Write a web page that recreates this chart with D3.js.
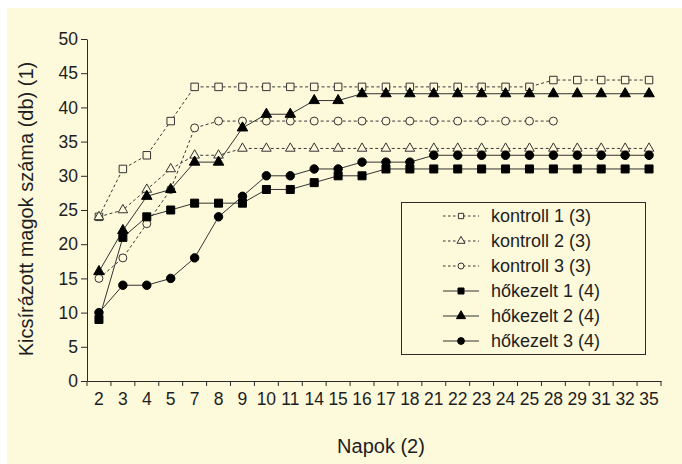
<!DOCTYPE html>
<html>
<head>
<meta charset="utf-8">
<script src="https://cdn.jsdelivr.net/npm/d3@7/dist/d3.min.js"></script>
<style>
  html, body { margin: 0; padding: 0; background: #ffffff; }
  svg { display: block; font-family: "Liberation Sans", Arial, Helvetica, sans-serif; }
</style>
</head>
<body>
<svg id="chart" width="682" height="464"></svg>
<script>
// Days of observation (ordinal categories on the x axis)
const days = ["2","3","4","5","7","8","9","10","11","14","15","16","17","18","21","22","23","24","25","28","29","31","32","35"];

// Cumulative number of germinated seeds per replicate
const kontroll1 = [24,31,33,38,43,43,43,43,43,43,43,43,43,43,43,43,43,43,43,44,44,44,44,44];
const kontroll2 = [24,25,28,31,33,33,34,34,34,34,34,34,34,34,34,34,34,34,34,34,34,34,34,34];
const kontroll3 = [15,18,23,28,37,38,38,38,38,38,38,38,38,38,38,38,38,38,38,38];
const hokezelt1 = [9,21,24,25,26,26,26,28,28,29,30,30,31,31,31,31,31,31,31,31,31,31,31,31];
const hokezelt2 = [16,22,27,28,32,32,37,39,39,41,41,42,42,42,42,42,42,42,42,42,42,42,42,42];
const hokezelt3 = [10,14,14,15,18,24,27,30,30,31,31,32,32,32,33,33,33,33,33,33,33,33,33,33];

const yTicks = [0,5,10,15,20,25,30,35,40,45,50];
const seriesNames = ["kontroll 1 (3)","kontroll 2 (3)","kontroll 3 (3)","hőkezelt 1 (4)","hőkezelt 2 (4)","hőkezelt 3 (4)"];

const BG = "#fdf9db";
const INK = "#2b2b2b";

const series = [
  { name: seriesNames[0], values: kontroll1, symbol: d3.symbolSquare,   size: 56, filled: false, dashed: true },
  { name: seriesNames[1], values: kontroll2, symbol: d3.symbolTriangle, size: 40, filled: false, dashed: true },
  { name: seriesNames[2], values: kontroll3, symbol: d3.symbolCircle,   size: 50, filled: false, dashed: true },
  { name: seriesNames[3], values: hokezelt1, symbol: d3.symbolSquare,   size: 64, filled: true,  dashed: false },
  { name: seriesNames[4], values: hokezelt2, symbol: d3.symbolTriangle, size: 48, filled: true,  dashed: false },
  { name: seriesNames[5], values: hokezelt3, symbol: d3.symbolCircle,   size: 56, filled: true,  dashed: false }
];

const svg = d3.select("#chart");

// panel background
svg.append("rect").attr("x", 7).attr("y", 8).attr("width", 675).attr("height", 456).attr("fill", BG);

const x = d3.scaleBand().domain(days).range([87, 661]).paddingInner(0).paddingOuter(0);
const y = d3.scaleLinear().domain([0, 50]).range([381, 39]);
const cx = d => x(d) + x.bandwidth() / 2;

// y axis
const yAxis = svg.append("g")
  .attr("transform", "translate(87,0)")
  .call(d3.axisLeft(y).tickValues(yTicks).tickSize(6).tickPadding(3).tickSizeOuter(0));
yAxis.select(".domain").attr("stroke", INK);
yAxis.selectAll(".tick line").attr("stroke", INK);
yAxis.selectAll(".tick text").attr("fill", "#1e1e1e").attr("font-size", 17.5).attr("font-family", "Liberation Sans, Arial, sans-serif");

// x axis: labels centred in each band, ticks at band boundaries
const xAxis = svg.append("g")
  .attr("transform", "translate(0,381)")
  .call(d3.axisBottom(x).tickSize(0).tickPadding(12).tickSizeOuter(0));
xAxis.select(".domain").attr("stroke", INK);
xAxis.selectAll(".tick text").attr("fill", "#1e1e1e").attr("font-size", 17.5).attr("font-family", "Liberation Sans, Arial, sans-serif");
const bounds = days.map(d => x(d)).concat([x.range()[1]]);
xAxis.selectAll("line.bound").data(bounds).enter().append("line")
  .attr("class", "bound")
  .attr("x1", d => d).attr("x2", d => d)
  .attr("y1", 0).attr("y2", 5)
  .attr("stroke", INK);

// series lines
const line = d3.line().x((v, i) => cx(days[i])).y(v => y(v));
series.forEach(s => {
  svg.append("path")
    .attr("d", line(s.values))
    .attr("fill", "none")
    .attr("stroke", s.dashed ? "#3a3a3a" : "#333")
    .attr("stroke-width", 1)
    .attr("stroke-dasharray", s.dashed ? "3,2.5" : null);
});

// series markers (open for controls, filled for heat treated)
series.forEach(s => {
  svg.append("g").selectAll("path").data(s.values).enter().append("path")
    .attr("transform", (v, i) => `translate(${cx(days[i])},${y(v)})`)
    .attr("d", d3.symbol().type(s.symbol).size(s.size))
    .attr("fill", s.filled ? "#000" : BG)
    .attr("stroke", s.filled ? "#000" : "#333")
    .attr("stroke-width", 1);
});

// legend
const lg = svg.append("g");
lg.append("rect").attr("x", 401.5).attr("y", 202.5).attr("width", 244).attr("height", 152)
  .attr("fill", BG).attr("stroke", INK).attr("stroke-width", 1);
series.forEach((s, i) => {
  const ly = 216 + i * 25;
  lg.append("line").attr("x1", 443).attr("x2", 479).attr("y1", ly).attr("y2", ly)
    .attr("stroke", "#333").attr("stroke-width", 1)
    .attr("stroke-dasharray", s.dashed ? "2.5,2.5" : null);
  lg.append("path")
    .attr("transform", `translate(461,${ly})`)
    .attr("d", d3.symbol().type(s.symbol).size(s.filled ? 36 : 28))
    .attr("fill", s.filled ? "#000" : BG)
    .attr("stroke", s.filled ? "#000" : "#333")
    .attr("stroke-width", 1);
  lg.append("text").attr("x", 491).attr("y", ly).attr("dy", "0.35em")
    .attr("font-size", 18).attr("fill", "#1e1e1e").text(s.name);
});

// axis titles
svg.append("text")
  .attr("transform", "translate(33,209) rotate(-90)")
  .attr("text-anchor", "middle")
  .attr("font-size", 20).attr("fill", "#1e1e1e")
  .text("Kicsírázott magok száma (db) (1)");
svg.append("text")
  .attr("x", 381).attr("y", 453)
  .attr("text-anchor", "middle")
  .attr("font-size", 20).attr("fill", "#1e1e1e")
  .text("Napok (2)");
</script>
</body>
</html>
